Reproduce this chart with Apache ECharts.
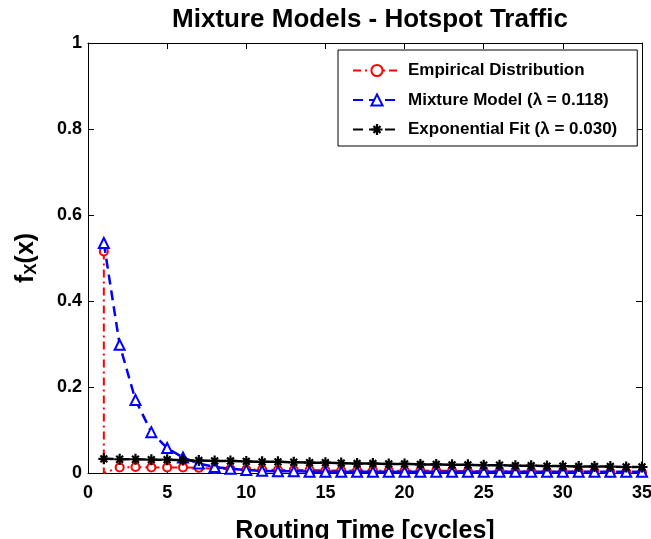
<!DOCTYPE html>
<html>
<head>
<meta charset="utf-8">
<script src="https://cdn.jsdelivr.net/npm/echarts@6/dist/echarts.min.js"></script>
<style>
  html, body { margin: 0; padding: 0; background: #fff; }
  #chart { width: 651px; height: 539px; }
</style>
</head>
<body>
<div id="chart"></div>
<script>
// Routing time in cycles
const cycles = [1,2,3,4,5,6,7,8,9,10,11,12,13,14,15,16,17,18,19,20,21,22,23,24,25,26,27,28,29,30,31,32,33,34,35];

// Measured probability mass per routing time
const empirical = [0.515,0.013,0.014,0.013,0.013,0.013,0.012,0.010,0.009,0.008,0.008,0.007,0.007,0.007,0.006,0.006,0.006,0.006,0.005,0.005,0.005,0.005,0.005,0.004,0.004,0.004,0.004,0.004,0.003,0.003,0.003,0.003,0.001,0.002,0.001];

// Mixture model, lambda = 0.118
const mixture = [0.535,0.298,0.170,0.095,0.058,0.036,0.022,0.014,0.010,0.007,0.005,0.004,0.004,0.003,0.003,0.003,0.003,0.003,0.003,0.003,0.003,0.003,0.003,0.003,0.003,0.003,0.003,0.003,0.003,0.003,0.003,0.003,0.003,0.003,0.003];

// Exponential fit, lambda = 0.030
const expFit = [0.033,0.032,0.032,0.031,0.031,0.030,0.029,0.028,0.028,0.027,0.026,0.026,0.025,0.024,0.024,0.023,0.022,0.022,0.021,0.021,0.020,0.020,0.019,0.019,0.018,0.018,0.017,0.017,0.016,0.016,0.015,0.015,0.015,0.014,0.014];

const xTicks = [0,5,10,15,20,25,30,35];
const yTicks = [0,0.2,0.4,0.6,0.8,1];

const seriesNames = ['Empirical Distribution', 'Mixture Model (\u03bb = 0.118)', 'Exponential Fit (\u03bb = 0.030)'];

const FONT = '"Liberation Sans", Arial, sans-serif';

// asterisk marker: a plus and a cross overlaid
const asterisk = 'path://M4,0H6V4H10V6H6V10H4V6H0V4H4Z M1.2,2.6L2.6,1.2L5,3.6L7.4,1.2L8.8,2.6L6.4,5L8.8,7.4L7.4,8.8L5,6.4L2.6,8.8L1.2,7.4L3.6,5Z';

const pairs = (xs, ys) => xs.map((x, i) => [x, ys[i]]);

// the empirical stem at the first bin drops back to zero before continuing
const empiricalData = [[cycles[0], empirical[0]], { value: [cycles[0], 0], symbol: 'none' }]
  .concat(pairs(cycles.slice(1), empirical.slice(1)));

const chart = echarts.init(document.getElementById('chart'), null, { renderer: 'canvas' });

const axisCommon = {
  axisLine: { show: true, onZero: false, lineStyle: { color: '#000', width: 1 } },
  axisTick: { show: true, inside: true, length: 6, lineStyle: { color: '#000' } },
  splitLine: { show: false }
};

chart.setOption({
  animation: false,
  backgroundColor: '#fff',
  title: {
    text: 'Mixture Models - Hotspot Traffic',
    left: 365, textAlign: 'center', top: 2,
    textStyle: { fontFamily: FONT, fontWeight: 'bold', fontSize: 26, color: '#000' }
  },
  legend: {
    data: seriesNames,
    orient: 'vertical',
    left: 338, top: 50,
    padding: [12, 20, 8, 14],
    itemGap: 12.5,
    itemWidth: 48, itemHeight: 14,
    backgroundColor: '#fff',
    borderColor: '#000', borderWidth: 1,
    textStyle: { fontFamily: FONT, fontWeight: 'bold', fontSize: 17, color: '#000', padding: [0, 0, 0, 2] }
  },
  grid: { left: 88, right: 9, top: 43, bottom: 66, containLabel: false, outerBoundsMode: 'none' },
  xAxis: [
    Object.assign({
      type: 'value', min: 0, max: 35, interval: 5, position: 'bottom',
      axisLabel: { fontFamily: FONT, fontWeight: 'bold', fontSize: 18, color: '#000', margin: 11,
        formatter: v => xTicks.includes(v) ? String(v) : '' },
      name: 'Routing Time [cycles]', nameLocation: 'middle', nameGap: 46,
      nameTextStyle: { fontFamily: FONT, fontWeight: 'bold', fontSize: 25, color: '#000' }
    }, axisCommon),
    Object.assign({
      type: 'value', min: 0, max: 35, interval: 5, position: 'top',
      axisLabel: { show: false }
    }, axisCommon)
  ],
  yAxis: [
    Object.assign({
      type: 'value', min: 0, max: 1, interval: 0.2, position: 'left',
      axisLabel: { fontFamily: FONT, fontWeight: 'bold', fontSize: 18, color: '#000', margin: 6,
        formatter: v => String(+v.toFixed(1)) },
      name: '{f|f}{s|X}{f|(x)}', nameLocation: 'middle', nameGap: 48,
      nameTextStyle: {
        rich: {
          f: { fontFamily: FONT, fontWeight: 'bold', fontSize: 25, color: '#000' },
          s: { fontFamily: FONT, fontWeight: 'bold', fontSize: 17, color: '#000', verticalAlign: 'bottom', padding: [10, 0, 0, 0] }
        }
      }
    }, axisCommon),
    Object.assign({
      type: 'value', min: 0, max: 1, interval: 0.2, position: 'right',
      axisLabel: { show: false }
    }, axisCommon)
  ],
  series: [
    {
      name: seriesNames[0], type: 'line', data: empiricalData,
      symbol: 'emptyCircle', symbolSize: 8,
      itemStyle: { color: '#ff0000', borderWidth: 2 },
      lineStyle: { color: '#ff0000', width: 2, type: [8, 4, 2, 4] },
      z: 3
    },
    {
      name: seriesNames[1], type: 'line', data: pairs(cycles, mixture),
      symbol: 'emptyTriangle', symbolSize: 10,
      itemStyle: { color: '#0000ff', borderWidth: 2 },
      lineStyle: { color: '#0000ff', width: 2.5, type: [10, 6] },
      z: 4
    },
    {
      name: seriesNames[2], type: 'line', data: pairs(cycles, expFit),
      symbol: asterisk, symbolSize: 11,
      itemStyle: { color: '#000' },
      lineStyle: { color: '#000', width: 2.5, type: [10, 6] },
      z: 5
    }
  ]
});
</script>
</body>
</html>
